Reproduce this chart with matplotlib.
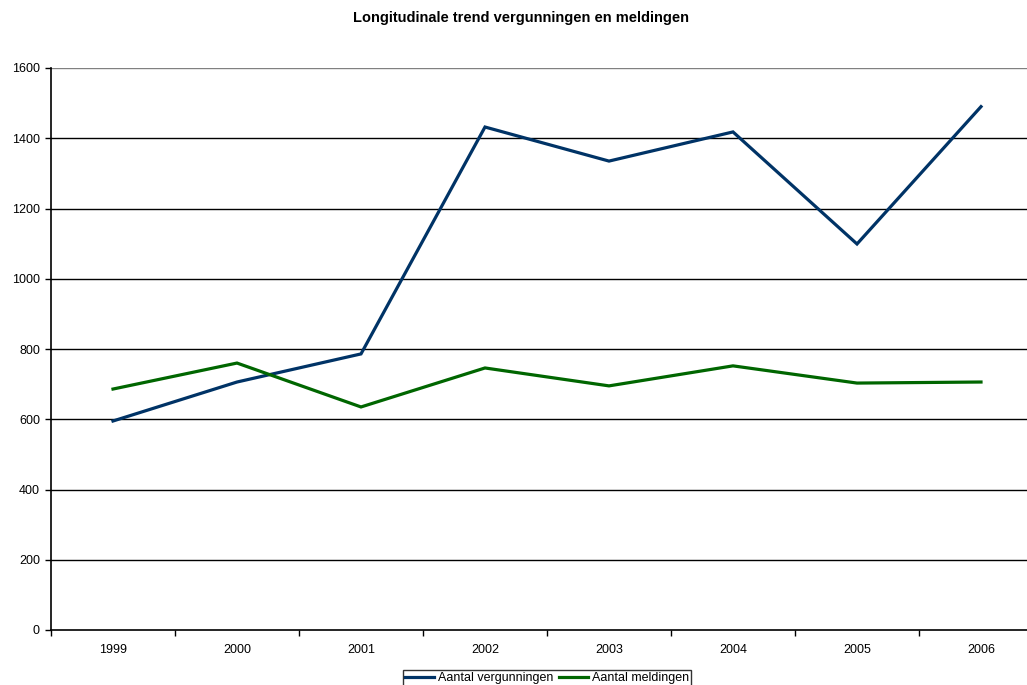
import matplotlib
matplotlib.use("Agg")
import matplotlib.pyplot as plt
import numpy as np

plt.rcParams['font.family'] = ['Liberation Sans', 'DejaVu Sans']

years = ['1999', '2000', '2001', '2002', '2003', '2004', '2005', '2006']
vergunningen = [595, 706, 786, 1432, 1335, 1418, 1099, 1490]
meldingen = [686, 760, 635, 746, 695, 752, 703, 706]
title = 'Longitudinale trend vergunningen en meldingen'

W, H = 1027, 685
fig = plt.figure(figsize=(W/100, H/100), dpi=100)
left, right, top, bottom = 51, 1043, 68, 630
ax = fig.add_axes([left/W, (H-bottom)/H, (right-left)/W, (bottom-top)/H])

x = np.arange(len(years))
ax.plot(x, vergunningen, color='#003366', lw=2.3, label='Aantal vergunningen', solid_joinstyle='miter')
ax.plot(x, meldingen, color='#006600', lw=2.3, label='Aantal meldingen', solid_joinstyle='miter')

ax.set_xlim(-0.5, len(years)-0.5)
ax.set_ylim(0, 1600)
ax.set_yticks(np.arange(0, 1601, 200))
ax.set_xticks(x)
ax.set_xticklabels(years)
ax.set_xticks(np.arange(-0.5, len(years), 1), minor=True)
ax.tick_params(axis='x', which='major', length=0, pad=10, labelsize=9)
ax.tick_params(axis='x', which='minor', length=4, width=1, direction='out')
ax.tick_params(axis='y', length=4, width=1, direction='out', labelsize=9, pad=4)
for yv in range(200, 1601, 200):
    ax.axhline(yv, color='black' if yv < 1600 else '#808080', lw=1, zorder=0)
for s in ['top', 'right']:
    ax.spines[s].set_visible(False)
ax.spines['left'].set_linewidth(1.2)
ax.spines['bottom'].set_linewidth(1.2)

fig.text(521/W, 1-18/H, title, ha='center', va='center', fontsize=10.5, fontweight='bold')

leg = fig.legend(loc='upper center', bbox_to_anchor=(547/W, 1-670/H), ncol=2, frameon=True,
                 fancybox=False, edgecolor='black', fontsize=9, handlelength=2.3,
                 columnspacing=0.5, handletextpad=0.3, borderpad=0.2, borderaxespad=0)
leg.get_frame().set_linewidth(1)

fig.savefig('out.png', dpi=100)
